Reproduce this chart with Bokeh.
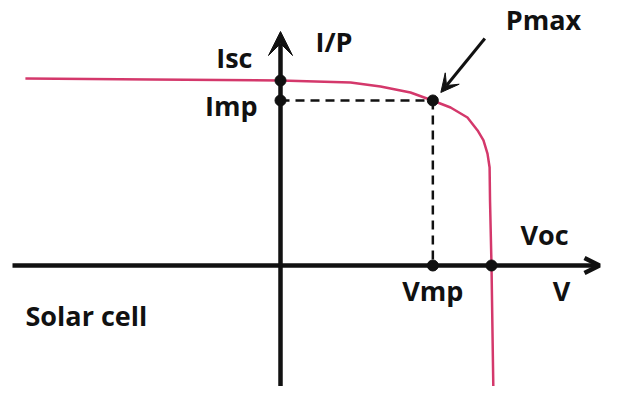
from bokeh.plotting import figure
from bokeh.models import Range1d, Arrow, VeeHead, OpenHead, ColumnDataSource
from bokeh.core.properties import value
from bokeh.embed import file_html
from bokeh.resources import INLINE

# ---- data (normalised units: V / Voc, I / Isc) ----
curve_v = [-1.209, -0.616, 0.0, 0.332, 0.474, 0.616, 0.720, 0.806, 0.886,
           0.934, 0.962, 0.981, 0.991, 0.993, 1.0, 1.009]
curve_i = [1.011, 1.005, 1.0, 0.989, 0.968, 0.935, 0.892, 0.854, 0.800,
           0.730, 0.676, 0.605, 0.530, 0.351, 0.0, -0.686]
isc = 1.0
imp = 0.892
vmp = 0.722
voc = 1.0
point_v = [0.0, 0.0, vmp, vmp, voc]
point_i = [isc, imp, imp, 0.0, 0.0]

# ---- layout (pixels per unit) ----
W, H = 602, 386
SX, SY = 211.0, 185.0          # screen pixels per V unit / I unit
OX, OY = 280.0, 265.0          # origin position inside the frame (from left / top)

def px(n):
    return n / SX

def py(n):
    return n / SY

p = figure(width=W, height=H, output_backend="svg", toolbar_location=None,
           x_range=Range1d(-OX / SX, (W - OX) / SX),
           y_range=Range1d(-(H - OY) / SY, OY / SY),
           min_border=0)
p.axis.visible = False
p.grid.visible = False
p.outline_line_color = None
p.background_fill_color = "white"
p.border_fill_color = "white"

INK = "#111111"
CURVE = "#d4386b"

# axes with arrow heads
p.add_layout(Arrow(end=OpenHead(size=15, line_width=4.5, line_color=INK),
                   x_start=px(-268), y_start=0, x_end=px(W - OX - 3), y_end=0,
                   line_width=4.5, line_color=INK))
p.add_layout(Arrow(end=VeeHead(size=24, fill_color=INK, line_color=INK, line_width=1),
                   x_start=0, y_start=-py(H - OY), x_end=0, y_end=py(234),
                   line_width=4.5, line_color=INK))

# I-V curve
p.line(curve_v, curve_i, line_color=CURVE, line_width=2.5)

# dashed guides to the maximum power point
p.line([0, vmp], [imp, imp], line_color=INK, line_width=2.5, line_dash="9 6")
p.line([vmp, vmp], [imp, 0], line_color=INK, line_width=2.5, line_dash="9 6")

# marked points
p.scatter(point_v, point_i, size=11, color=INK)

# arrow pointing to Pmax
p.add_layout(Arrow(end=VeeHead(size=18, fill_color=INK, line_color=INK, line_width=1),
                   x_start=vmp + px(52), y_start=imp + py(62),
                   x_end=vmp + px(8), y_end=imp + py(8),
                   line_width=3, line_color=INK))

# labels
labels = ColumnDataSource(dict(
    x=[px(-28), px(-23), px(35), vmp + px(73), voc + px(29), vmp, px(281), px(-255)],
    y=[isc + py(23), imp - py(5), py(224), imp + py(81), py(31), -py(25), -py(25), -py(50)],
    text=["Isc", "Imp", "I/P", "Pmax", "Voc", "Vmp", "V", "Solar cell"],
    align=["right", "right", "left", "left", "left", "center", "center", "left"],
))
p.text(x="x", y="y", text="text", source=labels, text_align="align",
       text_baseline="alphabetic", text_font=value("Open Sans"),
       text_font_style="bold", text_font_size="27px", text_color=INK)

open("out.html", "w").write(file_html(p, INLINE))
